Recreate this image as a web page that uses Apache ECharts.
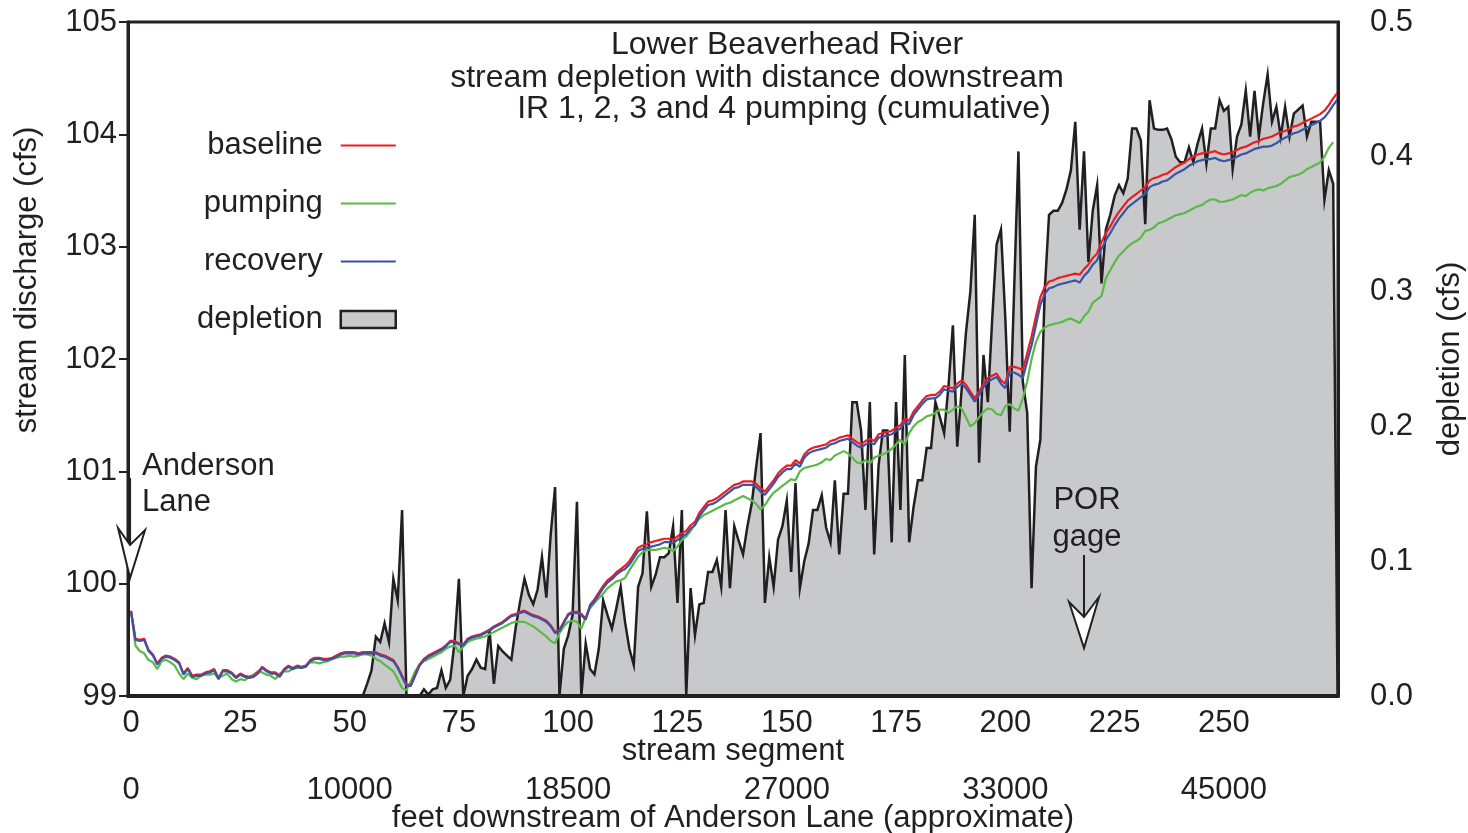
<!DOCTYPE html>
<html><head><meta charset="utf-8">
<script src="https://cdn.jsdelivr.net/npm/echarts@6/dist/echarts.min.js"></script>
<style>html,body{margin:0;padding:0;background:#fff}#c{width:1468px;height:833px}</style>
</head><body><div id="c"></div>
<script>
// ---- data ----
const segmentTicks = [0,25,50,75,100,125,150,175,200,225,250];
const feetTickSegments = [0,50,100,150,200,250];
const feetTickLabels = ['0','10000','18500','27000','33000','45000'];
const andersonSegment = 0;
const porGageSegment = 218;

// depletion (cfs), one value per stream segment 0..276
const depletion = [
0,0,0,0,0,0,0,0,0,0,
0,0,0,0,0,0,0,0,0,0,
0,0,0,0,0,0,0,0,0,0,
0,0,0,0,0,0,0,0,0,0,
0,0,0,0,0,0,0,0,0,0,
0,0,0,0,0.009,0.019,0.044,0.040,0.054,0.040,
0.087,0.071,0.138,0,0,0,0,0.005,0.001,0.005,
0.006,0.019,0.006,0.012,0.040,0.087,0,0.015,0.020,0.027,
0.021,0.020,0.049,0.009,0.037,0.033,0.030,0.027,0.051,0.070,
0.087,0.075,0.068,0.079,0.103,0.073,0.120,0.155,0,0.035,
0.045,0.060,0.144,0,0.039,0.020,0.016,0.035,0.071,0.060,
0.050,0.065,0.081,0.055,0.035,0.023,0.081,0.091,0.137,0.081,
0.090,0.103,0.103,0.106,0.126,0.069,0.138,0,0.080,0.045,
0.068,0.069,0.092,0.092,0.101,0.081,0.138,0.080,0.126,0.115,
0.105,0.126,0.143,0.170,0.195,0.069,0.103,0.081,0.116,0.126,
0.145,0.092,0.158,0.080,0.100,0.113,0.138,0.138,0.149,0.125,
0.114,0.160,0.105,0.150,0.150,0.218,0.218,0.197,0.138,0.218,
0.105,0.171,0.197,0.197,0.114,0.218,0.138,0.253,0.114,0.140,
0.160,0.160,0.184,0.184,0.218,0.207,0.195,0.230,0.275,0.185,
0.227,0.270,0.300,0.357,0.173,0.253,0.218,0.280,0.335,0.346,
0.280,0.196,0.300,0.404,0.233,0.210,0.080,0.170,0.190,0.300,
0.357,0.360,0.360,0.366,0.376,0.390,0.426,0.346,0.404,0.322,
0.360,0.379,0.306,0.346,0.357,0.371,0.379,0.373,0.384,0.421,
0.421,0.412,0.350,0.442,0.421,0.420,0.420,0.421,0.413,0.400,
0.396,0.396,0.407,0.396,0.410,0.421,0.395,0.421,0.421,0.442,
0.434,0.437,0.391,0.415,0.424,0.449,0.415,0.449,0.415,0.440,
0.461,0.426,0.437,0.415,0.437,0.415,0.432,0.435,0.438,0.415,
0.426,0.426,0.426,0.368,0.390,0.380,0
];

// stream discharge (cfs), baseline, segments 0..276
const baseline = [
99.76,99.51,99.50,99.51,99.41,99.37,99.29,99.34,99.36,99.35,99.33,99.30,99.20,99.25,99.18,99.19,99.19,99.21,99.22,99.24,99.16,99.23,99.23,99.21,99.17,99.20,99.18,99.17,99.18,99.21,99.26,99.23,99.21,99.21,99.18,99.24,99.27,99.25,99.27,99.26,99.27,99.32,99.34,99.34,99.33,99.33,99.34,99.36,99.38,99.39,
99.39,99.39,99.38,99.39,99.39,99.39,99.39,99.37,99.36,99.34,99.32,99.26,99.18,99.10,99.10,99.19,99.28,99.33,99.36,99.38,99.40,99.42,99.45,99.49,99.49,99.47,99.46,99.51,99.53,99.54,99.55,99.57,99.59,99.62,99.64,99.66,99.69,99.72,99.73,99.75,99.76,99.74,99.72,99.71,99.69,99.67,99.63,99.57,99.59,99.66,
99.73,99.75,99.75,99.73,99.69,99.81,99.86,99.92,99.98,100.03,100.06,100.10,100.13,100.16,100.20,100.26,100.32,100.34,100.35,100.37,100.38,100.39,100.40,100.40,100.39,100.42,100.45,100.47,100.52,100.55,100.63,100.68,100.73,100.74,100.76,100.79,100.82,100.85,100.88,100.89,100.91,100.91,100.91,100.89,100.85,100.82,100.87,100.92,100.98,101.02,
101.05,101.05,101.10,101.07,101.15,101.19,101.21,101.22,101.23,101.24,101.27,101.28,101.30,101.31,101.32,101.29,101.26,101.24,101.27,101.29,101.27,101.33,101.34,101.35,101.36,101.39,101.41,101.47,101.45,101.53,101.58,101.63,101.67,101.68,101.68,101.71,101.76,101.75,101.74,101.78,101.81,101.77,101.71,101.65,101.71,101.78,101.83,101.85,101.87,101.81,
101.78,101.93,101.93,101.92,101.90,102.05,102.20,102.38,102.55,102.64,102.69,102.70,102.72,102.73,102.74,102.75,102.76,102.75,102.80,102.84,102.90,102.94,103.04,103.12,103.18,103.25,103.31,103.36,103.41,103.44,103.47,103.50,103.53,103.59,103.61,103.62,103.64,103.65,103.68,103.71,103.73,103.75,103.78,103.80,103.82,103.83,103.84,103.84,103.85,103.83,
103.82,103.83,103.84,103.86,103.88,103.89,103.91,103.93,103.94,103.96,103.97,103.98,104.00,104.02,104.03,104.05,104.07,104.08,104.10,104.12,104.14,104.16,104.18,104.21,104.26,104.32,104.37
];

// stream discharge (cfs), pumping, segments 0..275
const pumping = [
99.75,99.45,99.40,99.38,99.32,99.30,99.24,99.31,99.32,99.30,99.27,99.20,99.15,99.20,99.16,99.15,99.18,99.19,99.19,99.20,99.16,99.18,99.20,99.15,99.13,99.15,99.14,99.17,99.19,99.22,99.21,99.19,99.18,99.15,99.20,99.22,99.22,99.24,99.25,99.25,99.27,99.30,99.30,99.29,99.30,99.31,99.33,99.34,99.35,99.35,
99.36,99.35,99.36,99.37,99.37,99.36,99.33,99.31,99.28,99.25,99.22,99.15,99.07,99.05,99.13,99.22,99.28,99.31,99.33,99.35,99.37,99.39,99.42,99.44,99.45,99.39,99.44,99.48,99.50,99.51,99.52,99.53,99.55,99.57,99.59,99.61,99.63,99.65,99.66,99.66,99.66,99.64,99.62,99.59,99.56,99.53,99.49,99.47,99.56,99.62,
99.66,99.67,99.66,99.60,99.70,99.78,99.83,99.87,99.91,99.96,99.99,100.02,100.03,100.05,100.12,100.18,100.24,100.28,100.30,100.30,100.30,100.31,100.32,100.31,100.29,100.33,100.39,100.42,100.47,100.53,100.58,100.61,100.63,100.65,100.67,100.69,100.71,100.72,100.74,100.76,100.78,100.76,100.74,100.71,100.66,100.70,100.76,100.81,100.84,100.87,
100.90,100.93,100.92,101.00,101.03,101.04,101.05,101.06,101.08,101.11,101.10,101.14,101.16,101.18,101.16,101.12,101.08,101.07,101.10,101.07,101.12,101.14,101.15,101.17,101.20,101.24,101.28,101.24,101.34,101.40,101.44,101.46,101.49,101.50,101.52,101.55,101.55,101.52,101.55,101.58,101.56,101.48,101.40,101.43,101.48,101.53,101.56,101.55,101.51,101.50,
101.58,101.60,101.56,101.54,101.65,101.80,102.00,102.15,102.24,102.28,102.30,102.31,102.32,102.33,102.35,102.36,102.34,102.32,102.38,102.42,102.50,102.53,102.56,102.72,102.79,102.86,102.92,102.96,103.00,103.03,103.05,103.08,103.14,103.15,103.17,103.21,103.22,103.24,103.26,103.28,103.29,103.30,103.32,103.34,103.36,103.37,103.40,103.42,103.42,103.40,
103.40,103.41,103.42,103.44,103.46,103.45,103.48,103.50,103.51,103.50,103.52,103.53,103.54,103.56,103.59,103.62,103.63,103.64,103.66,103.69,103.71,103.73,103.75,103.80,103.88,103.93
];

// stream discharge (cfs), recovery, segments 0..276
const recovery = [
99.75,99.50,99.49,99.50,99.40,99.36,99.28,99.33,99.35,99.34,99.32,99.29,99.19,99.24,99.17,99.18,99.18,99.20,99.21,99.23,99.15,99.22,99.22,99.20,99.16,99.19,99.17,99.16,99.17,99.20,99.25,99.22,99.20,99.20,99.17,99.23,99.26,99.24,99.26,99.25,99.26,99.31,99.33,99.33,99.32,99.32,99.33,99.35,99.37,99.38,
99.38,99.38,99.37,99.38,99.38,99.38,99.38,99.36,99.35,99.33,99.31,99.25,99.17,99.09,99.09,99.18,99.27,99.32,99.35,99.37,99.39,99.41,99.44,99.48,99.48,99.46,99.45,99.50,99.52,99.53,99.54,99.56,99.58,99.61,99.63,99.65,99.68,99.71,99.72,99.74,99.75,99.73,99.71,99.70,99.68,99.66,99.62,99.56,99.58,99.65,
99.72,99.74,99.74,99.72,99.68,99.80,99.84,99.90,99.96,100.01,100.04,100.08,100.11,100.13,100.17,100.23,100.29,100.31,100.32,100.33,100.34,100.35,100.37,100.37,100.36,100.39,100.42,100.44,100.49,100.52,100.60,100.65,100.70,100.71,100.73,100.76,100.79,100.82,100.85,100.86,100.88,100.88,100.88,100.86,100.82,100.79,100.84,100.89,100.95,100.99,
101.02,101.02,101.07,101.04,101.12,101.16,101.18,101.19,101.20,101.21,101.24,101.25,101.27,101.28,101.29,101.26,101.23,101.21,101.24,101.26,101.24,101.30,101.31,101.32,101.33,101.36,101.38,101.44,101.42,101.50,101.55,101.60,101.64,101.65,101.65,101.68,101.73,101.72,101.71,101.75,101.78,101.74,101.68,101.62,101.68,101.75,101.80,101.82,101.84,101.78,
101.74,101.88,101.88,101.86,101.83,101.98,102.12,102.30,102.48,102.58,102.63,102.64,102.66,102.67,102.68,102.69,102.70,102.68,102.74,102.78,102.84,102.88,102.98,103.06,103.12,103.19,103.25,103.30,103.35,103.38,103.41,103.44,103.47,103.53,103.55,103.56,103.58,103.59,103.62,103.65,103.67,103.69,103.72,103.74,103.76,103.77,103.78,103.78,103.79,103.77,
103.76,103.77,103.78,103.80,103.82,103.83,103.85,103.87,103.88,103.89,103.89,103.90,103.92,103.95,103.97,103.99,104.01,104.02,104.04,104.06,104.08,104.10,104.12,104.15,104.20,104.26,104.31
];

// ---- chart ----
const FONT = '"Liberation Sans", Arial, Helvetica, sans-serif';
const INK = '#231f20';
const FS = 31;
const bySegment = arr => arr.map((v, i) => [i, v]);
const txt = extra => Object.assign({fontSize: FS, fontFamily: FONT, color: INK}, extra || {});
const titleStyle = txt({fontSize: 32, fontWeight: 'normal'});

const chart = echarts.init(document.getElementById('c'), null, {renderer: 'canvas'});
chart.setOption({
  animation: false,
  backgroundColor: '#ffffff',
  title: [
    {text: 'Lower Beaverhead River', left: 787, top: 29, textAlign: 'center', padding: 0, textStyle: titleStyle},
    {text: 'stream depletion with distance downstream', left: 757, top: 62, textAlign: 'center', padding: 0, textStyle: titleStyle},
    {text: 'IR 1, 2, 3 and 4 pumping (cumulative)', left: 784, top: 93, textAlign: 'center', padding: 0, textStyle: titleStyle}
  ],
  grid: {left: 128, right: 130, top: 22, bottom: 137, show: true, borderColor: INK, borderWidth: 3, backgroundColor: 'transparent', outerBoundsMode: 'none'},
  legend: {
    orient: 'vertical', right: 1071, top: 130, align: 'right', padding: 0,
    itemGap: 27, itemWidth: 55, itemHeight: 17,
    textStyle: txt({padding: [0, 13, 0, 0], lineHeight: 30}),
    data: [
      {name: 'baseline', itemStyle: {opacity: 0}},
      {name: 'pumping', itemStyle: {opacity: 0}},
      {name: 'recovery', itemStyle: {opacity: 0}},
      {name: 'depletion', icon: 'rect', itemStyle: {color: '#c8c9cb', borderColor: INK, borderWidth: 2.5}}
    ]
  },
  xAxis: [
    {type: 'value', min: -0.7, max: 276.1, position: 'bottom', z: 10,
     axisLine: {show: true, onZero: false, lineStyle: {color: INK, width: 4}},
     axisTick: {show: false}, splitLine: {show: false},
     axisLabel: {customValues: segmentTicks, margin: 12, ...txt()},
     name: 'stream segment', nameLocation: 'middle', nameGap: 40, nameMoveOverlap: false, nameTextStyle: txt()},
    {type: 'value', min: -0.7, max: 276.1, position: 'bottom', offset: 67,
     axisLine: {show: false, onZero: false}, axisTick: {show: false}, splitLine: {show: false},
     axisLabel: {customValues: feetTickSegments, margin: 12, ...txt(),
       formatter: v => feetTickLabels[feetTickSegments.indexOf(v)]},
     name: 'feet downstream of Anderson Lane (approximate)', nameLocation: 'middle', nameGap: 40, nameMoveOverlap: false, nameTextStyle: txt()}
  ],
  yAxis: [
    {type: 'value', min: 99, max: 105, interval: 1, position: 'left', z: 10,
     axisLine: {show: true, onZero: false, lineStyle: {color: INK, width: 3}},
     axisTick: {show: true, inside: false, length: 9, lineStyle: {color: INK, width: 2}},
     splitLine: {show: false},
     axisLabel: {margin: 11, ...txt()},
     name: 'stream discharge (cfs)', nameLocation: 'middle', nameGap: 85, nameRotate: 90,
     nameTextStyle: txt({padding: [0, 0, 0, 158]})},
    {type: 'value', min: 0, max: 0.5, interval: 0.1, position: 'right', z: 10,
     axisLine: {show: true, onZero: false, lineStyle: {color: INK, width: 3}},
     axisTick: {show: false}, splitLine: {show: false},
     axisLabel: {margin: 32, ...txt(), formatter: v => v.toFixed(1)},
     name: 'depletion (cfs)', nameLocation: 'middle', nameGap: 97, nameRotate: 90, nameTextStyle: txt()}
  ],
  series: [
    {name: 'depletion', type: 'line', xAxisIndex: 0, yAxisIndex: 1, data: bySegment(depletion),
     symbol: 'none', z: 1, lineStyle: {color: INK, width: 2.5, join: 'miter'},
     itemStyle: {color: '#c8c9cb'}, areaStyle: {color: '#c8c9cb', opacity: 1}},
    {name: 'pumping', type: 'line', xAxisIndex: 0, yAxisIndex: 0, data: bySegment(pumping),
     symbol: 'none', z: 3, lineStyle: {color: '#5bb947', width: 2.2}, itemStyle: {color: '#5bb947'}},
    {name: 'baseline', type: 'line', xAxisIndex: 0, yAxisIndex: 0, data: bySegment(baseline),
     symbol: 'none', z: 4, lineStyle: {color: '#ec1c24', width: 2.2}, itemStyle: {color: '#ec1c24'}},
    {name: 'recovery', type: 'line', xAxisIndex: 0, yAxisIndex: 0, data: bySegment(recovery),
     symbol: 'none', z: 5, lineStyle: {color: '#3a53a4', width: 2.2}, itemStyle: {color: '#3a53a4'}}
  ]
});

// ---- annotations (arrows located from data coordinates) ----
const ax = chart.convertToPixel({xAxisIndex: 0}, andersonSegment) - 1;
const gx = chart.convertToPixel({xAxisIndex: 0}, porGageSegment);
const tFont = FS + 'px ' + FONT;
chart.setOption({
  graphic: [
    {type: 'text', x: ax + 12, y: 466, z: 20, style: {text: 'Anderson', font: tFont, fill: INK, verticalAlign: 'middle', align: 'left'}},
    {type: 'text', x: ax + 12, y: 502, z: 20, style: {text: 'Lane', font: tFont, fill: INK, verticalAlign: 'middle', align: 'left'}},
    {type: 'line', z: 20, shape: {x1: ax, y1: 478, x2: ax, y2: 545}, style: {stroke: INK, lineWidth: 2}},
    {type: 'polygon', z: 21, shape: {points: [[ax - 12, 528], [ax, 545], [ax + 15, 530], [ax, 578]]}, style: {fill: '#ffffff', stroke: INK, lineWidth: 2}},
    {type: 'text', x: gx + 3, y: 500, z: 20, style: {text: 'POR', font: tFont, fill: INK, verticalAlign: 'middle', align: 'center'}},
    {type: 'text', x: gx + 3, y: 537, z: 20, style: {text: 'gage', font: tFont, fill: INK, verticalAlign: 'middle', align: 'center'}},
    {type: 'line', z: 20, shape: {x1: gx, y1: 555, x2: gx, y2: 617}, style: {stroke: INK, lineWidth: 2}},
    {type: 'polygon', z: 21, shape: {points: [[gx - 15, 602], [gx, 617], [gx + 15, 597], [gx, 648]]}, style: {fill: '#ffffff', stroke: INK, lineWidth: 2}}
  ]
});
</script></body></html>
